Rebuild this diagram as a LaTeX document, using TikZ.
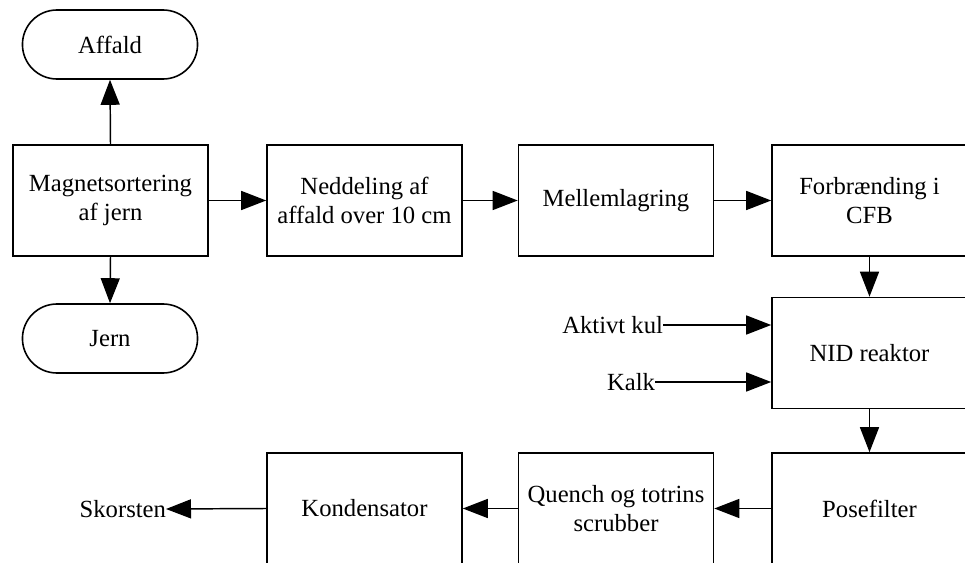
\documentclass[tikz,border=0pt]{standalone}
\usepackage{fontspec}
\setmainfont{Liberation Serif}
\usetikzlibrary{arrows.meta,shapes.misc}
\begin{document}
\begin{tikzpicture}[x=0.75pt,y=-0.75pt,
  font=\fontsize{18.5}{21.5}\selectfont,
  every node/.style={text=black},
  stepbox/.style={draw,line width=1.2pt,rectangle,minimum width=146.25pt,minimum height=83.25pt,align=center,inner sep=2pt},
  terminal/.style={draw,line width=1.2pt,rounded rectangle,minimum width=138pt,minimum height=51.75pt,align=center},
  lbl/.style={inner sep=0pt,outer sep=0pt},
  arr/.style={line width=1.1pt,-{Triangle[length=18.75pt,width=14.25pt]}}]
\useasboundingbox (0,0) rectangle (965,563);

% process boxes
\node[stepbox] (mag) at (110.5,200.5) {Magnetsortering\\af jern};
\node[stepbox] (ned) at (364.5,200.5) {Neddeling af\\affald over 10 cm};
\node[stepbox] (mel) at (616,200.5) {Mellemlagring};
\node[stepbox] (forb) at (869.5,200.5) {Forbrænding i\\CFB};
\node[stepbox] (nid) at (869.5,353) {NID reaktor};
\node[stepbox] (pose) at (869.5,508.5) {Posefilter};
\node[stepbox] (que) at (616,508.5) {Quench og totrins\\scrubber};
\node[stepbox] (kon) at (364.5,508.5) {Kondensator};

% terminals
\node[terminal] (aff) at (110,44.5) {Affald};
\node[terminal] (jern) at (110,338.5) {Jern};

% side inputs and outlet
\node[lbl,anchor=east] (ak) at (663,325) {Aktivt kul};
\node[lbl,anchor=east] (ka) at (655,382) {Kalk};
\node[lbl,anchor=east] (sk) at (166,509) {Skorsten};

% main flow
\draw[arr] (mag.north) -- (aff.south);
\draw[arr] (mag.south) -- (jern.north);
\draw[arr] (mag.east) -- (ned.west);
\draw[arr] (ned.east) -- (mel.west);
\draw[arr] (mel.east) -- (forb.west);
\draw[arr] (forb.south) -- (nid.north);
\draw[arr] (ak.east) -- (ak.east -| nid.west);
\draw[arr] (ka.east) -- (ka.east -| nid.west);
\draw[arr] (nid.south) -- (pose.north);
\draw[arr] (pose.west) -- (que.east);
\draw[arr] (que.west) -- (kon.east);
\draw[arr] (kon.west) -- (sk.east);
\end{tikzpicture}
\end{document}
